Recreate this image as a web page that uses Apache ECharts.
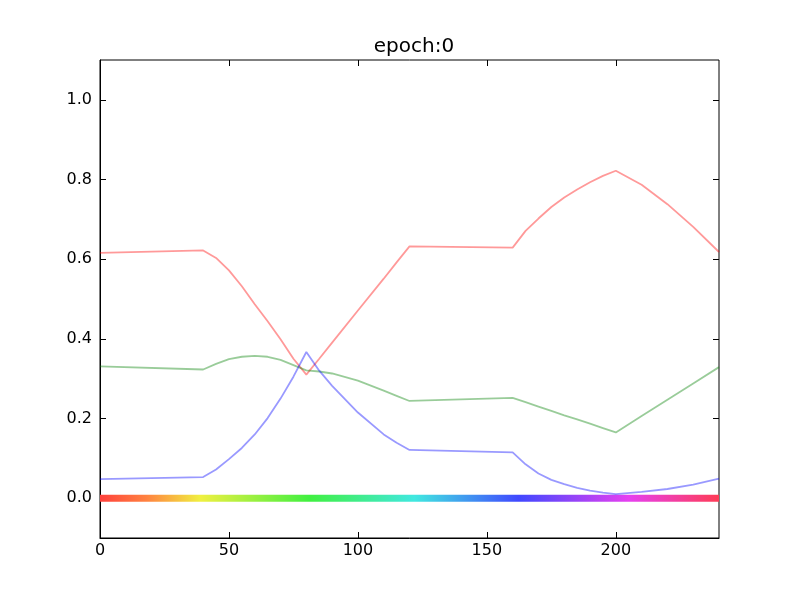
<!DOCTYPE html>
<html>
<head>
<meta charset="utf-8">
<script src="https://cdn.jsdelivr.net/npm/echarts@6/dist/echarts.min.js"></script>
<style>html,body{margin:0;padding:0;background:#fff;}#c{width:800px;height:600px;}</style>
</head>
<body>
<div id="c"></div>
<script>
var xValues = [0, 40, 45, 50, 55, 60, 65, 70, 75, 80, 85, 90, 100, 110, 115, 120, 160, 165, 170, 175, 180, 185, 190, 195, 200, 210, 220, 230, 240];
var redValues = [0.616, 0.622, 0.603, 0.572, 0.532, 0.487, 0.444, 0.399, 0.350, 0.310, 0.350, 0.3905, 0.471, 0.551, 0.592, 0.632, 0.629, 0.671, 0.702, 0.731, 0.755, 0.775, 0.793, 0.809, 0.822, 0.787, 0.738, 0.681, 0.618];
var greenValues = [0.331, 0.323, 0.337, 0.349, 0.355, 0.357, 0.355, 0.347, 0.334, 0.321, 0.318, 0.313, 0.295, 0.270, 0.257, 0.244, 0.252, 0.241, 0.230, 0.219, 0.208, 0.198, 0.187, 0.176, 0.165, 0.206, 0.247, 0.288, 0.329];
var blueValues = [0.048, 0.053, 0.072, 0.098, 0.126, 0.160, 0.201, 0.250, 0.305, 0.367, 0.320, 0.282, 0.215, 0.160, 0.139, 0.121, 0.115, 0.085, 0.062, 0.046, 0.035, 0.026, 0.019, 0.014, 0.010, 0.016, 0.023, 0.034, 0.049];
var bandX = [0, 240];
var bandY = [0, 0];
var xTicks = [0, 50, 100, 150, 200];
var yTicks = [0, 0.2, 0.4, 0.6, 0.8, 1.0];

function pairs(xs, ys) { return xs.map(function (x, i) { return [x, ys[i]]; }); }

var FONT = 'DejaVu Sans';
var chart = echarts.init(document.getElementById('c'), null, { renderer: 'canvas' });
function ticks(vals) {
  return { show: true, inside: true, length: 6, customValues: vals, lineStyle: { color: '#000', width: 1 } };
}

chart.setOption({
  animation: false,
  backgroundColor: '#fff',
  title: {
    text: 'epoch:0',
    left: 409,
    textAlign: 'center',
    top: 32,
    textStyle: { fontFamily: FONT, fontSize: 20, fontWeight: 'normal', color: '#000' }
  },
  grid: { left: 100, right: 81, top: 60, bottom: 62, show: true, borderColor: '#000', borderWidth: 1, backgroundColor: 'transparent' },
  xAxis: [{
    type: 'value', min: 0, max: 240, position: 'bottom',
    axisLine: { show: true, onZero: false, lineStyle: { color: '#000', width: 1 } },
    axisTick: ticks(xTicks),
    axisLabel: { customValues: xTicks, color: '#000', fontFamily: FONT, fontSize: 16, margin: 5 },
    splitLine: { show: false }
  }, {
    type: 'value', min: 0, max: 240, position: 'top',
    axisLine: { show: false, onZero: false },
    axisTick: ticks(xTicks),
    axisLabel: { show: false },
    splitLine: { show: false }
  }],
  yAxis: [{
    type: 'value', min: -0.1, max: 1.1, position: 'left',
    axisLine: { show: true, onZero: false, lineStyle: { color: '#000', width: 1 } },
    axisTick: ticks(yTicks),
    axisLabel: { customValues: yTicks, color: '#000', fontFamily: FONT, fontSize: 16, margin: 8,
      formatter: function (v) { return v.toFixed(1); } },
    splitLine: { show: false }
  }, {
    type: 'value', min: -0.1, max: 1.1, position: 'right',
    axisLine: { show: false, onZero: false },
    axisTick: ticks(yTicks),
    axisLabel: { show: false },
    splitLine: { show: false }
  }],
  series: [{
    type: 'line', data: pairs(bandX, bandY), symbol: 'none', z: 1,
    lineStyle: {
      width: 7, cap: 'butt',
      color: {
        type: 'linear', x: 0, y: 0, x2: 1, y2: 0,
        colorStops: [
          { offset: 0.0, color: 'rgba(255,60,60,1)' },
          { offset: 0.08, color: 'rgba(255,130,64,1)' },
          { offset: 0.166, color: 'rgba(240,240,64,1)' },
          { offset: 0.34, color: 'rgba(64,240,64,1)' },
          { offset: 0.508, color: 'rgba(64,232,224,1)' },
          { offset: 0.674, color: 'rgba(64,72,255,1)' },
          { offset: 0.85, color: 'rgba(230,64,240,1)' },
          { offset: 1.0, color: 'rgba(255,60,80,1)' }
        ]
      }
    }
  }, {
    type: 'line', data: pairs(xValues, redValues), symbol: 'none', z: 3,
    lineStyle: { color: 'rgba(255,0,0,0.4)', width: 1.8 }
  }, {
    type: 'line', data: pairs(xValues, greenValues), symbol: 'none', z: 3,
    lineStyle: { color: 'rgba(0,128,0,0.4)', width: 1.8 }
  }, {
    type: 'line', data: pairs(xValues, blueValues), symbol: 'none', z: 3,
    lineStyle: { color: 'rgba(0,0,255,0.4)', width: 1.8 }
  }]
});
</script>
</body>
</html>
